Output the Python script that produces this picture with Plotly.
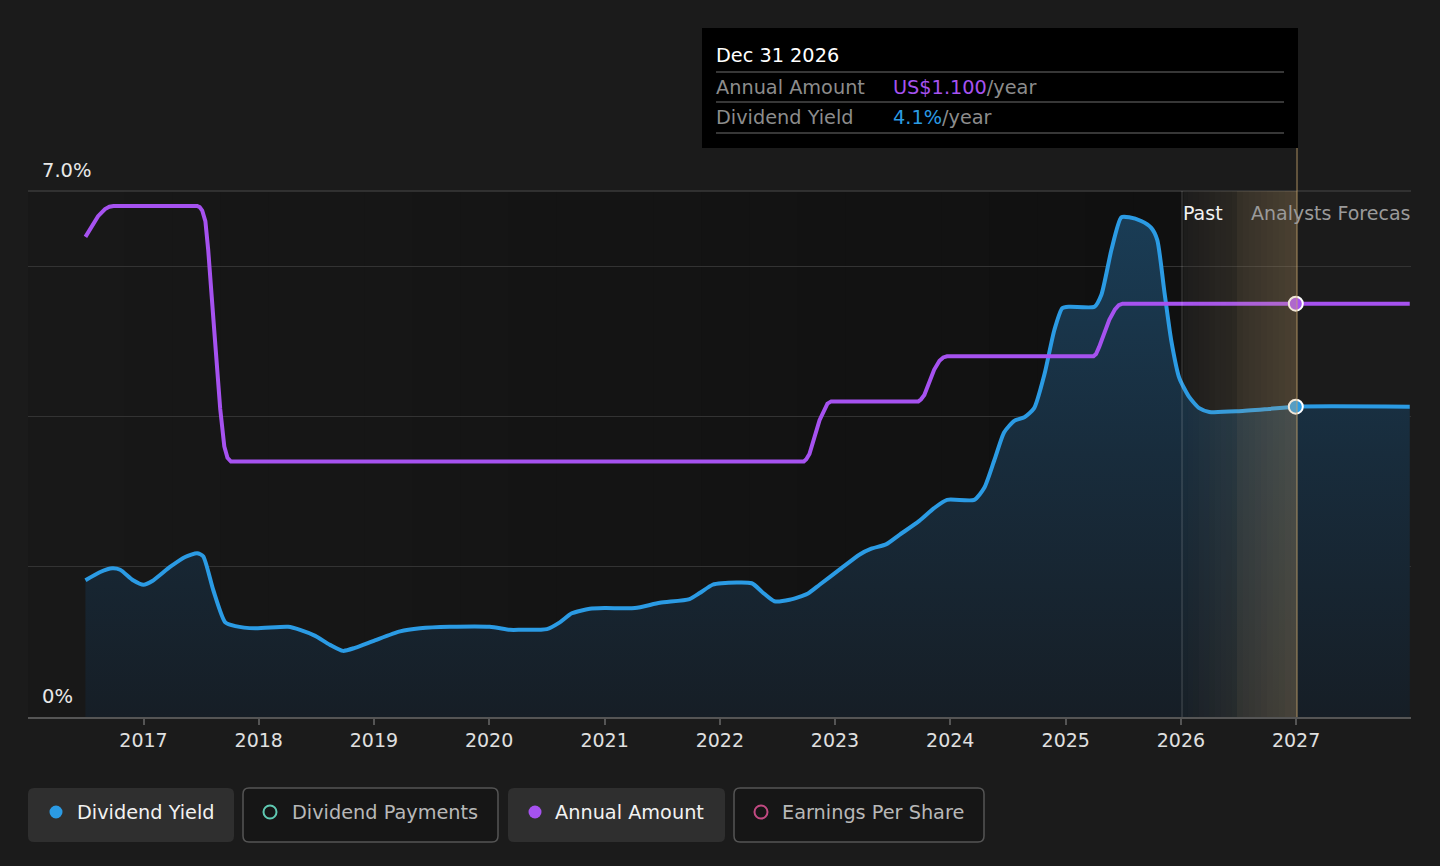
import plotly.graph_objects as go

# ---------------- data ----------------
yield_dates = ["2016-07-01","2016-08-17","2016-09-24","2016-10-19","2016-11-29","2017-01-01","2017-01-29",
    "2017-03-27","2017-05-13","2017-06-20","2017-07-09","2017-08-10","2017-09-17","2017-10-19","2017-12-21",
    "2018-04-04","2018-05-12","2018-06-29","2018-08-15","2018-09-25","2018-11-02","2019-01-04","2019-03-25",
    "2019-05-27","2019-08-29","2020-01-03","2020-03-07","2020-04-08","2020-07-02","2020-08-12","2020-09-19",
    "2020-11-15","2021-01-02","2021-04-07","2021-06-25","2021-09-27","2021-10-29","2021-12-09","2022-01-07",
    "2022-04-12","2022-05-16","2022-06-23","2022-08-10","2022-10-06","2022-11-13","2023-01-15","2023-03-19",
    "2023-04-26","2023-06-13","2023-07-23","2023-09-25","2023-11-11","2023-12-22","2024-03-17","2024-04-18",
    "2024-05-20","2024-06-20","2024-07-22","2024-08-23","2024-09-23","2024-10-25","2024-11-26","2024-12-21",
    "2025-01-13","2025-04-02","2025-04-24","2025-05-26","2025-06-26","2025-07-21","2025-08-28","2025-09-29",
    "2025-10-18","2025-11-09","2025-12-01","2025-12-27","2026-01-27","2026-02-28","2026-04-01","2026-07-04",
    "2026-10-07","2026-12-31","2027-12-27"]
yield_pct = [1.82,1.93,1.98,1.96,1.82,1.76,1.81,
    2.00,2.13,2.18,2.14,1.69,1.26,1.21,1.18,
    1.20,1.16,1.08,0.96,0.88,0.92,1.02,1.14,
    1.18,1.20,1.20,1.16,1.16,1.17,1.26,1.38,
    1.44,1.45,1.45,1.52,1.57,1.65,1.76,1.78,
    1.78,1.66,1.54,1.56,1.64,1.76,1.96,2.16,
    2.24,2.30,2.42,2.61,2.78,2.89,2.89,3.05,
    3.42,3.79,3.94,3.99,4.11,4.55,5.15,5.44,
    5.46,5.46,5.62,6.22,6.65,6.65,6.60,6.51,
    6.35,5.68,5.02,4.51,4.26,4.11,4.06,4.07,
    4.10,4.13,4.13]

amount_dates = ["2016-07-01","2016-07-20","2016-08-10","2016-09-01","2016-09-15","2016-09-28","2017-06-20",
    "2017-06-28","2017-07-06","2017-07-16","2017-07-25","2017-08-13","2017-09-01","2017-09-14","2017-09-24",
    "2017-10-05","2022-09-24","2022-10-02","2022-10-12","2022-11-13","2022-11-28","2022-12-08","2022-12-20",
    "2023-09-22","2023-09-30","2023-10-11","2023-11-11","2023-11-28","2023-12-10","2023-12-22",
    "2025-03-30","2025-04-07","2025-04-17","2025-05-19","2025-06-06","2025-06-18","2025-06-30","2027-12-27"]
amount_usd = [1.278,1.305,1.333,1.352,1.358,1.360,1.360,
    1.357,1.348,1.320,1.243,1.030,0.820,0.720,0.690,
    0.680,0.680,0.686,0.700,0.790,0.820,0.834,0.840,
    0.840,0.845,0.857,0.924,0.948,0.957,0.960,
    0.960,0.966,0.985,1.057,1.085,1.096,1.100,1.100]

marker_date = "2026-12-31"
marker_yield = 4.13
marker_amount = 1.100

x_ticks = ["2017-01-01","2018-01-01","2019-01-01","2020-01-01","2021-01-01","2022-01-01",
           "2023-01-01","2024-01-01","2025-01-01","2026-01-01","2027-01-01"]
x_tick_labels = ["2017","2018","2019","2020","2021","2022","2023","2024","2025","2026","2027"]

legend_labels = ["Dividend Yield", "Dividend Payments", "Annual Amount", "Earnings Per Share"]

# ---------------- style ----------------
BG = "#1b1b1b"
BLUE = "#2b9be4"
PURPLE = "#a652f0"
FONT = "DejaVu Sans"
W, H = 1440, 866
L, R, T, B = 28, 1411, 191, 717


def px(x):
    return (x - L) / (R - L)


def py(y):
    return (B - y) / (B - T)


fig = go.Figure()

fig.add_trace(go.Scatter(
    x=yield_dates, y=yield_pct, mode="lines", name="Dividend Yield",
    line=dict(color=BLUE, width=4, shape="spline", smoothing=0.6),
    fill="tozeroy",
    fillgradient=dict(type="vertical", start=0, stop=7,
                      colorscale=[[0, "rgba(22,30,38,1)"], [0.5, "rgba(24,44,60,1)"], [1, "rgba(26,62,88,1)"]]),
    hoverinfo="skip", showlegend=False))

fig.add_trace(go.Scatter(
    x=amount_dates, y=amount_usd, mode="lines", name="Annual Amount", yaxis="y2",
    line=dict(color=PURPLE, width=4, shape="linear"),
    hoverinfo="skip", showlegend=False))

fig.add_trace(go.Scatter(
    x=[marker_date], y=[marker_amount], mode="markers", yaxis="y2",
    marker=dict(color=PURPLE, size=14, line=dict(color="white", width=2)),
    hoverinfo="skip", showlegend=False))
fig.add_trace(go.Scatter(
    x=[marker_date], y=[marker_yield], mode="markers",
    marker=dict(color=BLUE, size=14, line=dict(color="white", width=2)),
    hoverinfo="skip", showlegend=False))

shapes = []
# darker plot background left of the "past" line (horizontal gradient)
n = 24
for i in range(n):
    x0 = L + (1182 - L) * i / n
    x1 = L + (1182 - L) * (i + 1) / n
    c = int(round(24 - 8 * (i + 0.5) / n))
    shapes.append(dict(type="rect", xref="paper", yref="paper", x0=px(x0), x1=px(x1) + 0.001,
                       y0=0, y1=1, fillcolor=f"rgb({c},{c},{c})", line=dict(width=0), layer="below"))

# past / forecast band
for seg, (a0, a1, s0, s1) in enumerate([(1182, 1237, 0.01, 0.10), (1237, 1297, 0.15, 0.28)]):
    m = 10
    for i in range(m):
        x0 = a0 + (a1 - a0) * i / m
        x1 = a0 + (a1 - a0) * (i + 1) / m
        a = s0 + (s1 - s0) * (i + 0.5) / m
        shapes.append(dict(type="rect", xref="paper", yref="paper", x0=px(x0), x1=px(x1),
                           y0=0, y1=1, fillcolor=f"rgba(200,165,110,{a:.3f})", line=dict(width=0), layer="above"))

# top boundary line
shapes.append(dict(type="line", xref="paper", yref="paper", x0=0, x1=1, y0=1, y1=1,
                   line=dict(color="#3a3a3a", width=1.5), layer="below"))
# vertical separators
shapes.append(dict(type="line", xref="paper", yref="paper", x0=px(1182), x1=px(1182), y0=0, y1=1,
                   line=dict(color="rgba(255,255,255,0.18)", width=1.2), layer="above"))
shapes.append(dict(type="line", xref="paper", yref="paper", x0=px(1297), x1=px(1297), y0=0, y1=py(148),
                   line=dict(color="rgba(200,165,110,0.55)", width=1.5), layer="above"))

# tooltip box
shapes.append(dict(type="rect", xref="paper", yref="paper", x0=px(702), x1=px(1298), y0=py(148), y1=py(28),
                   fillcolor="#000000", line=dict(width=0), layer="above"))
for yy in (72, 102, 133):
    shapes.append(dict(type="line", xref="paper", yref="paper", x0=px(716), x1=px(1284), y0=py(yy), y1=py(yy),
                       line=dict(color="#4a4a4a", width=1.5), layer="above"))


def rrect(x0, y0, x1, y1, r=6):
    ax, ay = r / (R - L), r / (B - T)
    X0, X1, Y0, Y1 = px(x0), px(x1), py(y1), py(y0)  # Y0 bottom, Y1 top
    return (f"M{X0 + ax},{Y0} L{X1 - ax},{Y0} Q{X1},{Y0} {X1},{Y0 + ay} L{X1},{Y1 - ay} "
            f"Q{X1},{Y1} {X1 - ax},{Y1} L{X0 + ax},{Y1} Q{X0},{Y1} {X0},{Y1 - ay} "
            f"L{X0},{Y0 + ay} Q{X0},{Y0} {X0 + ax},{Y0} Z")


buttons = [(28, 234, "#2f2f2f", None), (243, 498, "#161616", "#555555"),
           (508, 725, "#2f2f2f", None), (734, 984, "#161616", "#555555")]
for x0, x1, fc, lc in buttons:
    shapes.append(dict(type="path", xref="paper", yref="paper", path=rrect(x0, 788, x1, 842),
                       fillcolor=fc, line=dict(color=lc or fc, width=1.5 if lc else 0)))

dots = [(56, BLUE, True), (270, "#5fc9b2", False), (535, PURPLE, True), (761, "#c24a82", False)]
for cx, col, filled in dots:
    r = 6.5
    shapes.append(dict(type="circle", xref="paper", yref="paper",
                       x0=px(cx - r), x1=px(cx + r), y0=py(812 + r), y1=py(812 - r),
                       fillcolor=col if filled else "rgba(0,0,0,0)",
                       line=dict(color=col, width=0 if filled else 2)))

ann = []


def text(x, y, s, color, size=18, anchor="left"):
    ann.append(dict(xref="paper", yref="paper", x=px(x - 2), y=py(y), text=s, showarrow=False,
                    xanchor=anchor, yanchor="middle", font=dict(family=FONT, size=size, color=color)))


text(42, 171, "7.0%", "#e8e8e8", 19.5)
text(42, 696, "0%", "#e8e8e8", 19.5)
text(1183, 213, "Past", "#f2f2f2", 19)
text(1251, 213, "Analysts Forecas", "#9a9a9a", 19)

text(716, 55, "Dec 31 2026", "#ffffff", 19.3)
text(716, 87, "Annual Amount", "#8c8c8c", 19.3)
text(893, 87, f"<span style='color:{PURPLE}'>US${marker_amount:.3f}</span>/year", "#8c8c8c", 19.3)
text(716, 117, "Dividend Yield", "#8c8c8c", 19.3)
text(893, 117, f"<span style='color:{BLUE}'>{marker_yield:.1f}%</span>/year", "#8c8c8c", 19.3)

legend_pos = [(77, "#f2f2f2"), (292, "#b8b8b8"), (555, "#f2f2f2"), (782, "#b8b8b8")]
for (x, col), lab in zip(legend_pos, legend_labels):
    text(x, 812, lab, col, 19.3)

fig.update_layout(
    width=W, height=H,
    margin=dict(l=L, r=W - R, t=T, b=H - B, pad=0),
    paper_bgcolor=BG, plot_bgcolor=BG,
    font=dict(family=FONT, color="#e0e0e0", size=18),
    showlegend=False,
    shapes=shapes, annotations=ann,
    xaxis=dict(type="date", range=["2016-01-01", "2027-12-31"], tickvals=x_ticks, ticktext=x_tick_labels,
               showgrid=False, zeroline=False, showline=True, linecolor="#555555", linewidth=1.5,
               ticks="outside", ticklen=6, tickcolor="#555555", tickwidth=1.5, ticklabelstandoff=-1,
               tickfont=dict(family=FONT, size=19, color="#e0e0e0")),
    yaxis=dict(range=[0, 7], showgrid=False, zeroline=False, showticklabels=False, ticks=""),
    yaxis2=dict(range=[0, 1.4], overlaying="y", side="right", showgrid=True, gridcolor="#333333",
                gridwidth=1.2, tick0=0, dtick=0.4, zeroline=False, showticklabels=False, ticks=""),
)

fig.write_html("out.html", config={"displayModeBar": False},
               post_script="document.body.style.margin='0';document.body.style.overflow='hidden';")
